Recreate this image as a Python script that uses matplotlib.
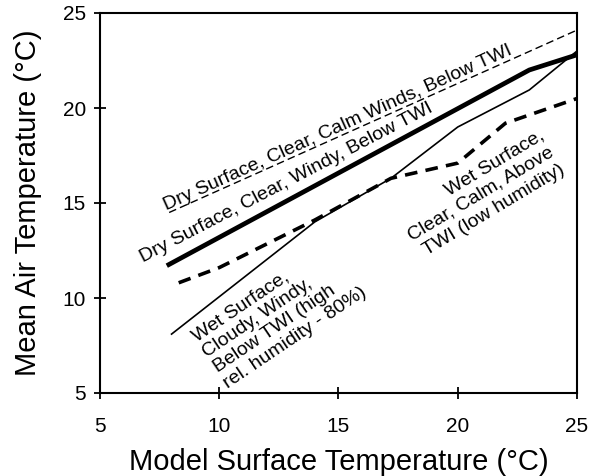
import matplotlib
matplotlib.use("Agg")
import matplotlib.pyplot as plt

plt.rcParams['font.family'] = ['Liberation Sans', 'DejaVu Sans']

# Data
dry_calm_x = [7.9, 25.0]
dry_calm_y = [14.5, 24.1]

dry_windy_x = [7.8, 23.0, 25.0]
dry_windy_y = [11.7, 22.0, 22.8]

wet_cloudy_x = [8.0, 14.0, 17.2, 20.0, 23.0, 25.0]
wet_cloudy_y = [8.1, 14.0, 16.3, 19.0, 20.95, 23.0]

wet_calm_x = [8.3, 10.0, 14.0, 17.2, 20.0, 22.0, 25.0]
wet_calm_y = [10.8, 11.6, 14.1, 16.3, 17.1, 19.2, 20.5]

ticks = [5, 10, 15, 20, 25]

fig = plt.figure(figsize=(5.92, 4.76), dpi=100)
ax = fig.add_axes([100/592, 1-393/476, 477/592, 380/476])

ax.plot(dry_calm_x, dry_calm_y, color='black', lw=1.0, linestyle=(0, (5.5, 3)))
ax.plot(dry_windy_x, dry_windy_y, color='black', lw=3.4, solid_capstyle='butt')
ax.plot(wet_cloudy_x, wet_cloudy_y, color='black', lw=1.2)
ax.plot(wet_calm_x, wet_calm_y, color='black', lw=2.6, linestyle=(0, (3.5, 2.3)))

ax.set_xlim(5, 25)
ax.set_ylim(5, 25)
ax.set_xticks(ticks)
ax.set_yticks(ticks)
ax.tick_params(direction='inout', length=8, width=1.3, labelsize=15, colors='black')
ax.tick_params(axis='x', pad=13)
ax.tick_params(axis='y', pad=6)
for s in ax.spines.values():
    s.set_linewidth(1.5)

ax.set_xlabel('Model Surface Temperature (°C)', fontsize=21, labelpad=9)
ax.set_ylabel('Mean Air Temperature (°C)', fontsize=21, labelpad=15)

fs = 14
ax.text(7.8, 14.6, 'Dry Surface, Clear, Calm Winds, Below TWI', fontsize=fs,
        rotation=24.3, rotation_mode='anchor', ha='left', va='baseline')
ax.text(6.8, 11.85, 'Dry Surface, Clear, Windy, Below TWI', fontsize=fs,
        rotation=27.5, rotation_mode='anchor', ha='left', va='baseline')
ax.text(10.32, 5.32, 'Wet Surface,\nCloudy, Windy,\nBelow TWI (high\nrel. humidity - 80%)',
        fontsize=fs, rotation=34, rotation_mode='anchor', ha='left', va='baseline',
        multialignment='left', linespacing=1.13)
ax.text(24.45, 16.75, 'Wet Surface,\nClear, Calm, Above\nTWI (low humidity)',
        fontsize=fs, rotation=31, rotation_mode='anchor', ha='right', va='baseline',
        multialignment='right', linespacing=1.25)

fig.savefig('out.png', dpi=100)
